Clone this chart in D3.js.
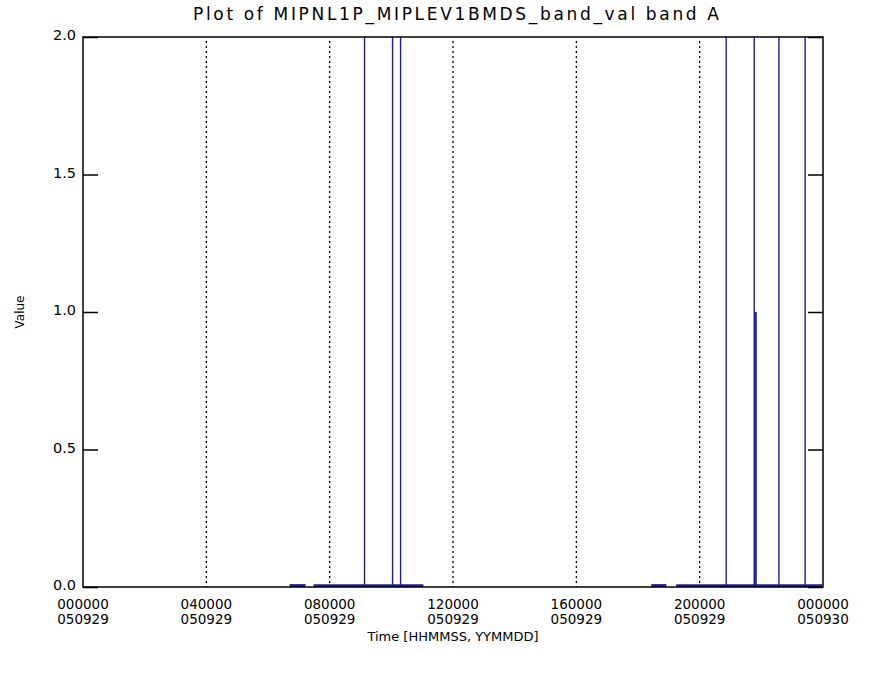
<!DOCTYPE html>
<html>
<head>
<meta charset="utf-8">
<script src="https://cdn.jsdelivr.net/npm/d3@7.9.0/dist/d3.min.js"></script>
<style>
  html, body { margin: 0; padding: 0; background: #fff; }
  svg { display: block; font-family: "DejaVu Sans", sans-serif; }
</style>
</head>
<body>
<svg id="chart" width="873" height="685"></svg>
<script>
// data (hours since 000000 050929)
const segmentStart = [6.70, 7.48, 18.43, 19.24];
const segmentEnd = [7.22, 11.04, 18.92, 23.97];
const spikeTimes = [9.13, 10.04, 10.30, 20.86, 21.77, 21.80, 21.83, 22.57, 23.42];
const spikeValues = [2.0, 2.0, 2.0, 2.0, 2.0, 1.0, 1.0, 2.0, 2.0];
const baseValue = 0.005;

const tickHours = [0, 4, 8, 12, 16, 20, 24];
const tickTimes = ["000000", "040000", "080000", "120000", "160000", "200000", "000000"];
const tickDates = ["050929", "050929", "050929", "050929", "050929", "050929", "050930"];
const yTicks = [0, 0.5, 1.0, 1.5, 2.0];

const svg = d3.select("#chart");
const margin = { left: 83, right: 50, top: 37, bottom: 98 };
const W = 873, H = 685;
const blue = "#1c1c94";

const x = d3.scaleLinear().domain([0, 24]).range([margin.left, W - margin.right]);
const y = d3.scaleLinear().domain([0, 2]).range([H - margin.bottom, margin.top]);

svg.append("clipPath").attr("id", "clip")
  .append("rect")
  .attr("x", x(0)).attr("y", y(2))
  .attr("width", x(24) - x(0)).attr("height", y(0) - y(2));

// dotted grid
svg.append("g")
  .selectAll("line")
  .data(tickHours.slice(1, -1))
  .join("line")
  .attr("x1", d => x(d)).attr("x2", d => x(d))
  .attr("y1", y(2) + 4).attr("y2", y(0))
  .attr("stroke", "#000")
  .attr("stroke-width", 1.3)
  .attr("stroke-dasharray", "2,3");

const plot = svg.append("g").attr("clip-path", "url(#clip)");

// data segments near zero
plot.selectAll("line.seg")
  .data(segmentStart)
  .join("line")
  .attr("class", "seg")
  .attr("x1", d => x(d))
  .attr("x2", (d, i) => x(segmentEnd[i]))
  .attr("y1", y(baseValue)).attr("y2", y(baseValue))
  .attr("stroke", blue)
  .attr("stroke-width", 3);

// spikes
plot.selectAll("line.spike")
  .data(spikeTimes)
  .join("line")
  .attr("class", "spike")
  .attr("x1", d => x(d)).attr("x2", d => x(d))
  .attr("y1", y(baseValue))
  .attr("y2", (d, i) => y(spikeValues[i]))
  .attr("stroke", blue)
  .attr("stroke-width", 1.4);

// frame
svg.append("rect")
  .attr("x", x(0)).attr("y", y(2))
  .attr("width", x(24) - x(0)).attr("height", y(0) - y(2))
  .attr("fill", "none").attr("stroke", "#000").attr("stroke-width", 1.5);

// y ticks (left, right inward)
const yAxisL = d3.axisLeft(y).tickValues(yTicks).tickSize(-15).tickFormat(d3.format(".1f")).tickPadding(6);
const gl = svg.append("g").attr("transform", `translate(${x(0)},0)`).call(yAxisL);
gl.select(".domain").remove();
gl.selectAll(".tick line").attr("stroke-width", 1.5);
gl.selectAll(".tick text").attr("x", -7).attr("dy", "0.2em").attr("font-size", 14.5).attr("fill", "#000")
  .attr("font-family", "DejaVu Sans, sans-serif");

const yAxisR = d3.axisRight(y).tickValues(yTicks).tickSize(-15).tickFormat("");
const gr = svg.append("g").attr("transform", `translate(${x(24)},0)`).call(yAxisR);
gr.select(".domain").remove();
gr.selectAll(".tick line").attr("stroke-width", 1.5);

// x tick labels (two rows)
const xg = svg.append("g").attr("font-size", 13.5).attr("text-anchor", "middle").attr("fill", "#000");
xg.selectAll("text.time")
  .data(tickHours)
  .join("text")
  .attr("class", "time")
  .attr("x", d => x(d)).attr("y", 609)
  .text((d, i) => tickTimes[i]);
xg.selectAll("text.date")
  .data(tickHours)
  .join("text")
  .attr("class", "date")
  .attr("x", d => x(d)).attr("y", 624)
  .text((d, i) => tickDates[i]);

// titles
svg.append("text")
  .attr("x", (x(0) + x(24)) / 2 + 3).attr("y", 20)
  .attr("text-anchor", "middle")
  .attr("font-size", 17)
  .attr("textLength", 526)
  .text("Plot of MIPNL1P_MIPLEV1BMDS_band_val band A");

svg.append("text")
  .attr("x", (x(0) + x(24)) / 2).attr("y", 641)
  .attr("text-anchor", "middle")
  .attr("font-size", 13)
  .text("Time [HHMMSS, YYMMDD]");

svg.append("text")
  .attr("transform", `translate(24,${(y(0) + y(2)) / 2}) rotate(-90)`)
  .attr("text-anchor", "middle")
  .attr("font-size", 12)
  .text("Value");
</script>
</body>
</html>
